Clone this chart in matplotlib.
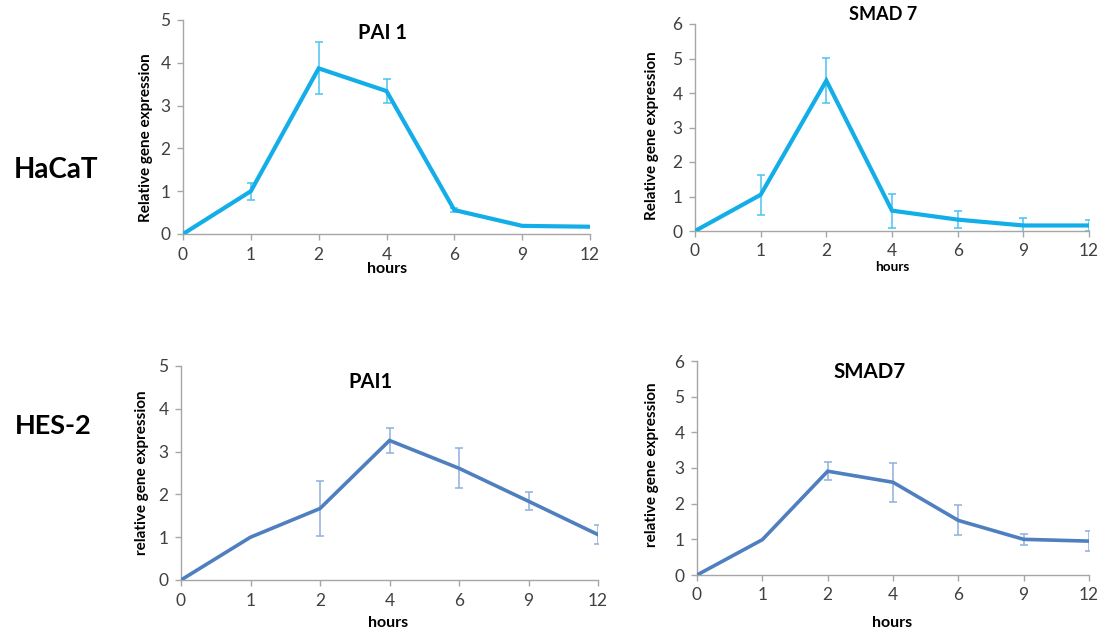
import numpy as np
import matplotlib
matplotlib.use("Agg")
import matplotlib.pyplot as plt

plt.rcParams['font.family'] = ['Lato', 'DejaVu Sans']

# ---- data ----
hours = ['0', '1', '2', '4', '6', '9', '12']

hacat_pai1 = [0, 1.00, 3.87, 3.34, 0.56, 0.19, 0.17]
hacat_pai1_err = [0, 0.20, 0.61, 0.29, 0.04, 0, 0]

hacat_smad7 = [0, 1.05, 4.36, 0.59, 0.33, 0.16, 0.16]
hacat_smad7_err = [0, 0.58, 0.66, 0.49, 0.25, 0.21, 0.16]

hes2_pai1 = [0, 1.00, 1.67, 3.26, 2.61, 1.84, 1.06]
hes2_pai1_err = [0, 0, 0.65, 0.30, 0.47, 0.21, 0.22]

hes2_smad7 = [0, 0.99, 2.91, 2.60, 1.53, 1.00, 0.95]
hes2_smad7_err = [0, 0, 0.25, 0.55, 0.42, 0.15, 0.27]

W, H = 1103, 636
fig = plt.figure(figsize=(W / 100, H / 100), dpi=100)


def box(left, top, right, bottom):
    # pixel box -> figure fraction rect
    return [left / W, 1 - bottom / H, (right - left) / W, (bottom - top) / H]


def fxy(x, y):
    return x / W, 1 - y / H


top_line, top_err = '#13aee8', '#4cc3f0'
bot_line, bot_err = '#4f7fbf', '#8fb0dc'


def panel(rect, vals, errs, ymax, line_c, err_c, lw):
    ax = fig.add_axes(rect)
    x = np.arange(len(hours))
    vals = np.array(vals)
    errs = np.array(errs)
    m = errs > 0
    ax.errorbar(x[m], vals[m], yerr=errs[m], fmt='none', ecolor=err_c,
                elinewidth=1.1, capsize=3, capthick=1.1, zorder=2)
    ax.plot(x, vals, color=line_c, lw=lw, zorder=3, solid_joinstyle='miter')
    ax.set_xlim(0, len(hours) - 1)
    ax.set_ylim(0, ymax)
    ax.set_xticks(x)
    ax.set_xticklabels(hours)
    ax.set_yticks(range(ymax + 1))
    for s in ['top', 'right']:
        ax.spines[s].set_visible(False)
    for s in ['left', 'bottom']:
        ax.spines[s].set_color('#a6a6a6')
        ax.spines[s].set_linewidth(1.0)
    ax.tick_params(direction='out', length=4, width=1.0, color='#a6a6a6',
                   labelsize=12.5, labelcolor='#404040', pad=5)
    ax.tick_params(axis='x', pad=5)
    return ax


panel(box(183, 20, 590, 234), hacat_pai1, hacat_pai1_err, 5, top_line, top_err, 3.0)
panel(box(695, 24, 1089, 231), hacat_smad7, hacat_smad7_err, 6, top_line, top_err, 3.0)
panel(box(181, 366, 598, 580), hes2_pai1, hes2_pai1_err, 5, bot_line, bot_err, 2.6)
panel(box(697, 361, 1089, 575), hes2_smad7, hes2_smad7_err, 6, bot_line, bot_err, 2.6)

# titles
fig.text(*fxy(382, 33), 'PAI 1', fontsize=14.5, fontweight='bold', ha='center', va='center')
fig.text(*fxy(883, 15), 'SMAD 7', fontsize=13, fontweight='bold', ha='center', va='center')
fig.text(*fxy(370, 382), 'PAI1', fontsize=14.5, fontweight='bold', ha='center', va='center')
fig.text(*fxy(870, 372), 'SMAD7', fontsize=14.8, fontweight='bold', ha='center', va='center')

# x labels
fig.text(*fxy(387, 269), 'hours', fontsize=11.5, fontweight='bold', ha='center', va='center')
fig.text(*fxy(892, 267), 'hours', fontsize=9.8, fontweight='bold', ha='center', va='center')
fig.text(*fxy(388, 623), 'hours', fontsize=11.5, fontweight='bold', ha='center', va='center')
fig.text(*fxy(892, 623), 'hours', fontsize=11.5, fontweight='bold', ha='center', va='center')

# y labels
fig.text(*fxy(146, 138), 'Relative gene expression', fontsize=11, fontweight='bold',
         rotation=90, ha='center', va='center')
fig.text(*fxy(652, 136), 'Relative gene expression', fontsize=11, fontweight='bold',
         rotation=90, ha='center', va='center')
fig.text(*fxy(142, 473), 'relative gene expression', fontsize=11, fontweight='bold',
         rotation=90, ha='center', va='center')
fig.text(*fxy(652, 465), 'relative gene expression', fontsize=11, fontweight='bold',
         rotation=90, ha='center', va='center')

# row labels
fig.text(*fxy(14, 170), 'HaCaT', fontsize=20, fontweight='bold', ha='left', va='center')
fig.text(*fxy(15, 426), 'HES-2', fontsize=19.5, fontweight='bold', ha='left', va='center')

fig.savefig('out.png', dpi=100)
